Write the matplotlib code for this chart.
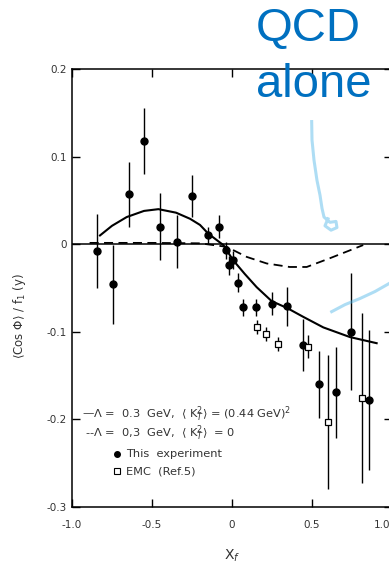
import matplotlib.pyplot as plt
import matplotlib.transforms as mtransforms

plt.rcParams['axes.unicode_minus'] = False

# this experiment (filled circles)
exp_x = [-0.846, -0.746, -0.646, -0.548, -0.45, -0.346, -0.25, -0.148, -0.08, -0.04,
         -0.017, 0.004, 0.036, 0.07, 0.148, 0.248, 0.346, 0.446, 0.546, 0.648, 0.744, 0.856]
exp_y = [-0.008, -0.046, 0.057, 0.118, 0.02, 0.003, 0.055, 0.010, 0.020, -0.007,
         -0.024, -0.018, -0.044, -0.072, -0.072, -0.068, -0.071, -0.115, -0.160, -0.169, -0.100, -0.178]
exp_err = [0.042, 0.045, 0.037, 0.038, 0.038, 0.030, 0.024, 0.010, 0.013, 0.010,
           0.011, 0.010, 0.011, 0.010, 0.010, 0.013, 0.022, 0.030, 0.038, 0.052, 0.067, 0.080]

# EMC (open squares)
emc_x = [0.158, 0.212, 0.29, 0.477, 0.602, 0.81]
emc_y = [-0.094, -0.102, -0.114, -0.117, -0.203, -0.176]
emc_err = [0.008, 0.008, 0.008, 0.013, 0.077, 0.097]

# QCD curve, <KT^2> = (0.44 GeV)^2
solid_x = [-0.825, -0.75, -0.658, -0.55, -0.46, -0.35, -0.262, -0.2, -0.148, -0.054,
           0.006, 0.08, 0.154, 0.248, 0.346, 0.446, 0.571, 0.737, 0.904]
solid_y = [0.010, 0.021, 0.031, 0.038, 0.040, 0.036, 0.029, 0.022, 0.012, -0.001,
           -0.018, -0.034, -0.049, -0.065, -0.073, -0.083, -0.095, -0.106, -0.113]

# QCD curve, <KT^2> = 0
dash_x = [-0.89, -0.5, -0.2, -0.033, 0.092, 0.217, 0.36, 0.467, 0.612, 0.737, 0.82]
dash_y = [0.0015, 0.0015, 0.001, -0.003, -0.0145, -0.022, -0.026, -0.026, -0.016, -0.007, -0.001]

# hand drawn blue arrows
scrib1_x = [0.498, 0.5, 0.5125, 0.531, 0.55, 0.5625, 0.575, 0.6125, 0.65, 0.656, 0.619, 0.581, 0.6]
scrib1_y = [0.140, 0.119, 0.096, 0.073, 0.056, 0.041, 0.031, 0.025, 0.026, 0.019, 0.016, 0.021, 0.029]
scrib2_x = [0.623, 0.706, 0.8, 0.894, 1.0]
scrib2_y = [-0.077, -0.069, -0.062, -0.054, -0.043]

xticks = [-1.0, -0.5, 0, 0.5, 1.0]
xlabels = ['-1.0', '-0.5', '0', '0.5', '1.0']
yticks = [0.2, 0.1, 0, -0.1, -0.2, -0.3]
ylabels = ['0.2', '0.1', '0', '-0.1', '-0.2', '-0.3']

txt = '#333333'
fs = 8.2

fig = plt.figure(figsize=(3.89, 5.71), dpi=100)
ax = fig.add_axes([72 / 389, 64 / 571, 320 / 389, 438 / 571])

ax.axhline(0, color='black', lw=1.1)
ax.plot(solid_x, solid_y, color='black', lw=1.5)
ax.plot(dash_x, dash_y, color='black', lw=1.3, dashes=(5, 3))

ax.errorbar(exp_x, exp_y, yerr=exp_err, fmt='o', color='black', ms=5, elinewidth=1.0, capsize=0)
ax.errorbar(emc_x, emc_y, yerr=emc_err, fmt='s', color='black', mfc='white', ms=4.5,
            mew=0.9, elinewidth=1.0, capsize=0)

ax.plot(scrib1_x, scrib1_y, color='#4db5e8', lw=2.2, alpha=0.45, clip_on=False)
ax.plot(scrib2_x, scrib2_y, color='#4db5e8', lw=2.2, alpha=0.45, clip_on=False)

ax.set_xlim(-1.0, 1.0)
ax.set_ylim(-0.3, 0.2)
ax.set_xticks(xticks)
ax.set_xticklabels(xlabels)
ax.set_yticks(yticks)
ax.set_yticklabels(ylabels)
ax.tick_params(direction='in', length=6, width=1.0, labelsize=7.5, labelcolor=txt,
               top=True, right=True)
ax.tick_params(axis='x', pad=9)
ax.tick_params(axis='y', pad=4)
for s in ax.spines.values():
    s.set_linewidth(1.1)

# last x label sits at the picture edge; nudge it in so it stays readable
last = ax.get_xticklabels()[-1]
last.set_transform(last.get_transform() + mtransforms.ScaledTranslation(-0.1, 0, fig.dpi_scale_trans))

# legend as text, like the original figure
lx = -0.94
ax.text(lx, -0.194, r'—Λ =  0.3  GeV,  $\langle$ K$_T^2\rangle$ = (0.44 GeV)$^2$',
        fontsize=fs, color=txt, va='center')
ax.text(lx + 0.02, -0.216, r'--Λ =  0,3  GeV,  $\langle$ K$_T^2\rangle$  = 0',
        fontsize=fs, color=txt, va='center')
ax.plot([-0.717], [-0.239], 'o', color='black', ms=4)
ax.text(-0.66, -0.239, 'This  experiment', fontsize=fs, color=txt, va='center')
ax.plot([-0.717], [-0.259], 's', color='black', mfc='white', ms=4, mew=0.8)
ax.text(-0.66, -0.259, 'EMC  (Ref.5)', fontsize=fs, color=txt, va='center')

fig.text(20 / 389, 1 - 316 / 571, r'$\langle$Cos Φ$\rangle$ / f$_1$ (y)', rotation=90,
         fontsize=8.5, color=txt, ha='center', va='center')
fig.text(232 / 389, 1 - 556 / 571, r'X$_f$', fontsize=10, color=txt, ha='center', va='center')

fig.text(256 / 389, 1 - 41 / 571, 'QCD', fontsize=34, family='Liberation Sans',
         color='#0070C0', ha='left', va='baseline')
fig.text(256 / 389, 1 - 97 / 571, 'alone', fontsize=34, family='Liberation Sans',
         color='#0070C0', ha='left', va='baseline')

fig.savefig('out.png', dpi=100)
